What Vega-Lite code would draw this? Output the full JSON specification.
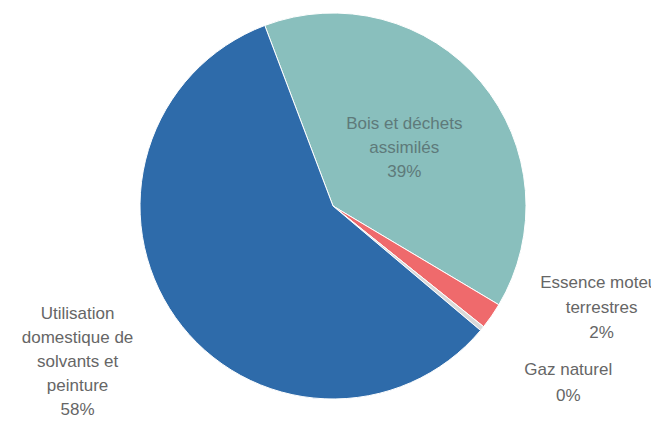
{
  "$schema": "https://vega.github.io/schema/vega-lite/v6.json",
  "width": 666,
  "height": 412,
  "padding": {"left": 0, "top": 0, "right": 0, "bottom": 11},
  "autosize": "none",
  "view": {"stroke": null},
  "config": {"text": {"font": "Liberation Sans"}},
  "data": {
    "values": [
      {"categorie": "Bois et déchets assimilés", "etiquette": "Bois et déchets\nassimilés\n39%", "part": 39.3, "rang": 1},
      {"categorie": "Essence moteur terrestres", "etiquette": "Essence moteur\nterrestres\n2%", "part": 2.2, "rang": 2},
      {"categorie": "Gaz naturel", "etiquette": "Gaz naturel\n0%", "part": 0.4, "rang": 3},
      {"categorie": "Utilisation domestique de solvants et peinture", "etiquette": "Utilisation\ndomestique de\nsolvants et\npeinture\n58%", "part": 58.1, "rang": 4}
    ]
  },
  "encoding": {
    "theta": {"field": "part", "type": "quantitative", "stack": true, "scale": {"range": [-0.3613, 5.9219]}},
    "order": {"field": "rang", "type": "quantitative"}
  },
  "layer": [
    {
      "mark": {"type": "arc", "outerRadius": 193, "stroke": "#ffffff", "strokeWidth": 1},
      "encoding": {
        "color": {
          "field": "categorie",
          "type": "nominal",
          "legend": null,
          "scale": {
            "domain": ["Bois et déchets assimilés", "Essence moteur terrestres", "Gaz naturel", "Utilisation domestique de solvants et peinture"],
            "range": ["#89BFBD", "#EF6A6C", "#D9D9D9", "#2E6BAA"]
          }
        }
      }
    },
    {
      "mark": {"type": "text", "radius": 93, "dy": -22, "fontSize": 17, "lineBreak": "\n", "lineHeight": 24, "align": "center", "baseline": "middle", "fill": "#5E7A7A"},
      "encoding": {
        "text": {"condition": {"test": "datum.rang === 1", "field": "etiquette", "type": "nominal"}, "value": ""}
      }
    },
    {
      "mark": {"type": "text", "radius": 210, "dx": 96, "dy": -43, "fontSize": 17, "lineBreak": "\n", "lineHeight": 25, "align": "center", "baseline": "middle", "fill": "#666666"},
      "encoding": {
        "text": {"condition": {"test": "datum.rang === 2", "field": "etiquette", "type": "nominal"}, "value": ""}
      }
    },
    {
      "mark": {"type": "text", "radius": 210, "dx": 73, "dy": 31, "fontSize": 17, "lineBreak": "\n", "lineHeight": 26, "align": "center", "baseline": "middle", "fill": "#666666"},
      "encoding": {
        "text": {"condition": {"test": "datum.rang === 3", "field": "etiquette", "type": "nominal"}, "value": ""}
      }
    },
    {
      "mark": {"type": "text", "radius": 210, "dx": -84, "dy": -13, "fontSize": 17, "lineBreak": "\n", "lineHeight": 24, "align": "center", "baseline": "middle", "fill": "#666666"},
      "encoding": {
        "text": {"condition": {"test": "datum.rang === 4", "field": "etiquette", "type": "nominal"}, "value": ""}
      }
    }
  ]
}
